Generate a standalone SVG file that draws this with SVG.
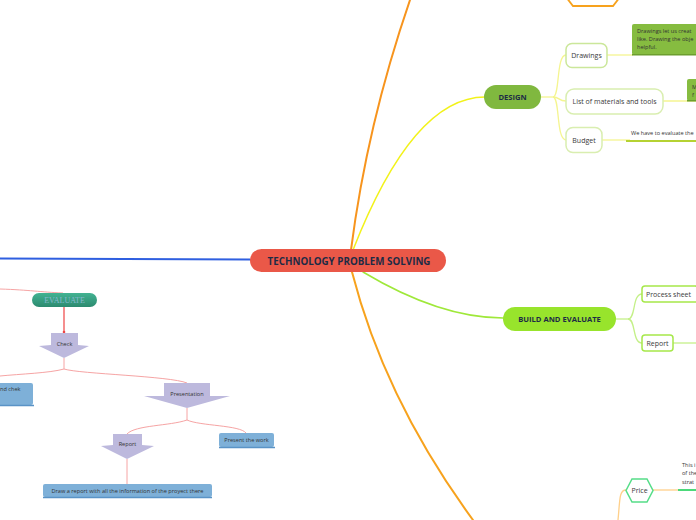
<svg xmlns="http://www.w3.org/2000/svg" width="696" height="520" viewBox="0 0 696 520">
<defs>
<linearGradient id="teal" x1="0" y1="0" x2="0" y2="1">
<stop offset="0" stop-color="#43b392"/>
<stop offset="1" stop-color="#2c8a6f"/>
</linearGradient>
</defs>
<style>
text{font-family:"Open Sans","Liberation Sans",sans-serif;}
.c{fill:none;stroke-linecap:round;}
.main{font-weight:bold;fill:#1d2b45;text-anchor:middle;}
.sub{fill:#3a3a3a;font-size:7px;text-anchor:middle;}
.note{fill:#333;font-size:5.6px;}
.ev{fill:#333;font-size:5.6px;text-anchor:middle;}
.arrowshape{fill:#bdb9dd;}
.blue{fill:#7eb0d8;}
.blueline{stroke:#5a93c6;stroke-width:1.5;}
</style>
<rect width="696" height="520" fill="#ffffff"/>
<g id="connectors">
<path class="c" d="M0,258.5 L250,259.5" stroke="#2f5fe0" stroke-width="2"/>
<path class="c" d="M351,250 Q367,125 410,0" stroke="#f7941d" stroke-width="2"/>
<path class="c" d="M353,250 Q413,97 485,97" stroke="#f2f21a" stroke-width="1.5"/>
<path class="c" d="M363,272 Q440,318 503,318" stroke="#9fe83a" stroke-width="1.5"/>
<path class="c" d="M352,272 Q385,400 473,520" stroke="#f7a21d" stroke-width="2"/>
<g stroke="#f5f590" stroke-width="1.3" fill="none">
<path d="M541,97 L553,97"/>
<path d="M553,97 C560,97 556,55 566,55"/>
<path d="M553,97 C560,97 558,101 566,101"/>
<path d="M553,97 C560,97 556,140 566,140"/>
<path d="M607,55 L633,55"/>
<path d="M663,101 L696,101"/>
<path d="M602,140 L630,140"/>
</g>
<path d="M626,141 L696,141" stroke="#b5d232" stroke-width="2"/>
<g stroke="#c4f088" stroke-width="1.3" fill="none">
<path d="M616,319 L628,319"/>
<path d="M628,319 C636,319 632,294 642,294"/>
<path d="M628,319 C636,319 632,343 642,343"/>
<path d="M673,343 L696,343"/>
</g>
<g stroke="#ffd08a" stroke-width="1.3" fill="none">
<path d="M618,520 C620,500 619,490 626,490"/>
<path d="M653,490 L678,490"/>
</g>
<path d="M678,490 L696,490" stroke="#4cd97a" stroke-width="2"/>
<g stroke="#f6a4a4" stroke-width="1" fill="none">
<path d="M0,289 C30,290 40,292 63,293"/>
<path d="M64,358 L64,369"/>
<path d="M64,369 C50,373 20,374 0,376"/>
<path d="M64,369 C80,374 170,376 187,383"/>
<path d="M187,408 L187,420"/>
<path d="M187,420 C170,426 135,425 127,434"/>
<path d="M187,420 C200,426 240,425 246,433"/>
<path d="M127,459 L127,484"/>
</g>
<path d="M64,307 L64,331" stroke="#ee4444" stroke-width="1.2" fill="none"/>
<circle cx="64" cy="332" r="1.3" fill="#ee4444"/>
</g>
<g id="top-hexagon">
<polygon points="566,-3 573,6 613,6 620,-3" fill="#ffffff" stroke="#f7a21d" stroke-width="1.8"/>
</g>
<g id="center">
<rect x="250" y="249" width="196" height="23" rx="11.5" fill="#ea5848"/>
<text class="main" x="349" y="264.5" font-size="9.8">TECHNOLOGY PROBLEM SOLVING</text>
</g>
<g id="design">
<rect x="484" y="85" width="57" height="24" rx="12" fill="#80b83f"/>
<text class="main" x="512.5" y="100" font-size="7.6">DESIGN</text>
</g>
<g id="drawings">
<rect x="566" y="43.5" width="41" height="24" rx="6" fill="#ffffff" stroke="#cbe79a" stroke-width="1.5"/>
<text class="sub" x="586.5" y="58">Drawings</text>
</g>
<g id="drawings-note">
<rect x="632" y="24" width="70" height="31" rx="2" fill="#86bc40"/>
<rect x="632" y="54" width="70" height="1.5" fill="#6c9e2e"/>
<text class="note" x="637" y="33">Drawings let us creat</text>
<text class="note" x="637" y="41">like. Drawing the obje</text>
<text class="note" x="637" y="49">helpful.</text>
</g>
<g id="list">
<rect x="566" y="89" width="97" height="25" rx="8" fill="#ffffff" stroke="#d9eeb0" stroke-width="1.5"/>
<text class="sub" x="614.5" y="104" font-size="6.8">List of materials and tools</text>
</g>
<g id="list-note">
<rect x="687" y="79" width="15" height="22" rx="2" fill="#86bc40"/>
<rect x="687" y="100" width="15" height="1.5" fill="#6c9e2e"/>
<text class="note" x="692" y="89">M</text>
<text class="note" x="692" y="97">f</text>
</g>
<g id="budget">
<rect x="566" y="127.5" width="36" height="25" rx="7" fill="#ffffff" stroke="#d9eeb0" stroke-width="1.5"/>
<text class="sub" x="584" y="143">Budget</text>
</g>
<g id="budget-note">
<text class="note" x="631" y="135">We have to evaluate the</text>
</g>
<g id="build">
<rect x="503" y="307" width="113" height="24" rx="12" fill="#98e42c"/>
<text class="main" x="559.5" y="322" font-size="7.6">BUILD AND EVALUATE</text>
</g>
<g id="process-sheet">
<rect x="642" y="286" width="56" height="16" rx="3" fill="#ffffff" stroke="#a6e84a" stroke-width="1.5"/>
<text class="sub" x="646" y="297" style="text-anchor:start">Process sheet</text>
</g>
<g id="report-build">
<rect x="642" y="335" width="31" height="16" rx="3" fill="#ffffff" stroke="#a6e84a" stroke-width="1.5"/>
<text class="sub" x="657.5" y="346">Report</text>
</g>
<g id="price">
<polygon points="626,490.5 632,479 647,479 653,490.5 647,502 632,502" fill="#ffffff" stroke="#55dd88" stroke-width="1.5"/>
<text class="sub" x="639.5" y="493">Price</text>
</g>
<g id="price-note">
<text class="note" x="682" y="467">This i</text>
<text class="note" x="682" y="475">of the</text>
<text class="note" x="682" y="484">strat</text>
</g>
<g id="evaluate">
<rect x="32" y="293" width="65" height="14" rx="7" fill="url(#teal)"/>
<text x="64.5" y="303" font-family="Liberation Serif, serif" font-size="8" fill="#86b8d0" text-anchor="middle" style="font-family:'Liberation Serif',serif">EVALUATE</text>
</g>
<g id="check">
<polygon class="arrowshape" points="51,333 78,333 78,345 89,346 64,358 39,346 51,345"/>
<text class="ev" x="64.5" y="346">Check</text>
</g>
<g id="build-check">
<rect class="blue" x="-4" y="383" width="37" height="22" rx="2"/>
<path class="blueline" d="M-4,405.5 L34,405.5"/>
<text class="note" x="0" y="391">nd chek</text>
</g>
<g id="presentation">
<polygon class="arrowshape" points="164,383 210,383 210,396 230,396 187,408 144,396 164,396"/>
<text class="ev" x="187" y="396">Presentation</text>
</g>
<g id="report">
<polygon class="arrowshape" points="113,434 142,434 142,445 154,446 127,459 101,446 113,445"/>
<text class="ev" x="127.5" y="446">Report</text>
</g>
<g id="present-work">
<rect class="blue" x="219" y="433" width="55" height="14" rx="2"/>
<path class="blueline" d="M219,447.5 L275,447.5"/>
<text class="ev" x="246.5" y="442">Present the work</text>
</g>
<g id="draw-report">
<rect class="blue" x="43" y="484" width="169" height="13" rx="2"/>
<path class="blueline" d="M43,497.5 L212,497.5"/>
<text class="ev" x="127.5" y="492.5">Draw a report with all the information of the proyect there</text>
</g>
</svg>
